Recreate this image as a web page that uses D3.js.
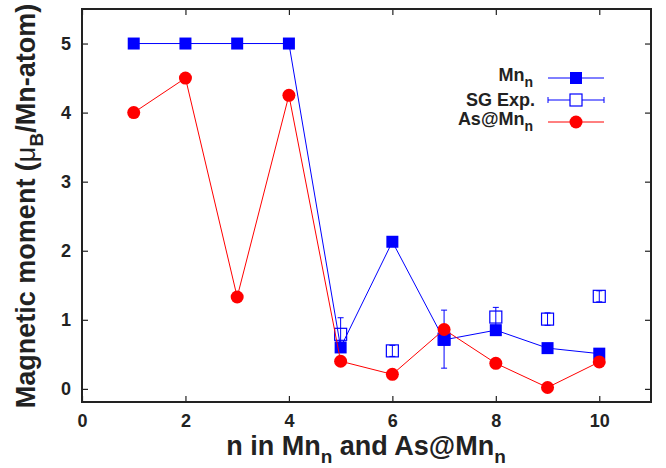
<!DOCTYPE html>
<html>
<head>
<meta charset="utf-8">
<script src="https://cdn.jsdelivr.net/npm/d3@7"></script>
<style>
body { margin: 0; background: #fff; }
text { font-family: "Liberation Sans", Arial, sans-serif; font-weight: bold; fill: #222; }
</style>
</head>
<body>
<div id="chart"></div>
<script>
// values
var nValues = [1, 2, 3, 4, 5, 6, 7, 8, 9, 10];
var mnMoment = [5, 5, 5, 5, 0.6, 2.13, 0.71, 0.85, 0.59, 0.51];
var asMnMoment = [4, 4.5, 1.33, 4.25, 0.40, 0.21, 0.86, 0.37, 0.02, 0.39];
var sgN = [5, 6, 7, 8, 9, 10];
var sgMoment = [0.79, 0.55, 0.72, 1.04, 1.01, 1.34];
var sgErr = [0.24, 0.08, 0.42, 0.14, 0.09, 0.08];
var xTicks = [0, 2, 4, 6, 8, 10];
var yTicks = [0, 1, 2, 3, 4, 5];

var width = 666, height = 468;
var margin = { top: 9, right: 15, bottom: 66, left: 82 };
var w = width - margin.left - margin.right;
var h = height - margin.top - margin.bottom;

var svg = d3.select('#chart')
    .append('svg')
    .attr('width', width)
    .attr('height', height);

var g = svg.append('g')
    .attr('transform', 'translate(' + margin.left + ',' + margin.top + ')');

var x = d3.scaleLinear().domain([0, 11]).range([0, w]);
var y = d3.scaleLinear().domain([-0.19, 5.5]).range([h, 0]);

// axes with inward ticks on all sides
var tickLen = 6;
g.append('g')
    .attr('transform', 'translate(0,' + h + ')')
    .call(d3.axisBottom(x).tickValues(xTicks).tickSizeInner(-tickLen).tickSizeOuter(0)
        .tickPadding(12).tickFormat(d3.format('d')));
g.append('g')
    .call(d3.axisTop(x).tickValues(xTicks).tickSizeInner(-tickLen).tickSizeOuter(0).tickFormat(''));
g.append('g')
    .call(d3.axisLeft(y).tickValues(yTicks).tickSizeInner(-tickLen).tickSizeOuter(0)
        .tickPadding(11).tickFormat(d3.format('d')));
g.append('g')
    .attr('transform', 'translate(' + w + ',0)')
    .call(d3.axisRight(y).tickValues(yTicks).tickSizeInner(-tickLen).tickSizeOuter(0).tickFormat(''));

g.selectAll('.domain').remove();
g.selectAll('.tick line').attr('stroke', '#222').attr('stroke-width', 1.2);
g.selectAll('.tick text')
    .attr('font-size', 18)
    .attr('font-family', '"Liberation Sans", Arial, sans-serif')
    .attr('font-weight', 'bold')
    .attr('fill', '#222');

g.append('rect')
    .attr('width', w)
    .attr('height', h)
    .attr('fill', 'none')
    .attr('stroke', '#222')
    .attr('stroke-width', 2);

var blue = '#0000ff', red = '#ff0000';
var sq = 12, rad = 6.5;

var line = d3.line()
    .x(function(d) { return x(d[0]); })
    .y(function(d) { return y(d[1]); });

var mnData = nValues.map(function(n, i) { return [n, mnMoment[i]]; });
var asData = nValues.map(function(n, i) { return [n, asMnMoment[i]]; });
var sgData = sgN.map(function(n, i) { return [n, sgMoment[i], sgErr[i]]; });

// SG experiment error bars + open squares
var sg = g.append('g');
sg.selectAll('.eb')
    .data(sgData)
    .enter()
    .append('path')
    .attr('d', function(d) {
        var cx = x(d[0]), y1 = y(d[1] + d[2]), y2 = y(d[1] - d[2]);
        return 'M' + cx + ',' + y1 + 'V' + y2 +
            'M' + (cx - 3) + ',' + y1 + 'H' + (cx + 3) +
            'M' + (cx - 3) + ',' + y2 + 'H' + (cx + 3);
    })
    .attr('stroke', blue)
    .attr('stroke-width', 1)
    .attr('fill', 'none');
sg.selectAll('rect')
    .data(sgData)
    .enter()
    .append('rect')
    .attr('x', function(d) { return x(d[0]) - sq / 2; })
    .attr('y', function(d) { return y(d[1]) - sq / 2; })
    .attr('width', sq)
    .attr('height', sq)
    .attr('fill', 'none')
    .attr('stroke', blue)
    .attr('stroke-width', 1.2);

// Mn_n
g.append('path')
    .datum(mnData)
    .attr('d', line)
    .attr('fill', 'none')
    .attr('stroke', blue)
    .attr('stroke-width', 1);
g.selectAll('.mn')
    .data(mnData)
    .enter()
    .append('rect')
    .attr('x', function(d) { return x(d[0]) - sq / 2; })
    .attr('y', function(d) { return y(d[1]) - sq / 2; })
    .attr('width', sq)
    .attr('height', sq)
    .attr('fill', blue);

// As@Mn_n
g.append('path')
    .datum(asData)
    .attr('d', line)
    .attr('fill', 'none')
    .attr('stroke', red)
    .attr('stroke-width', 1);
g.selectAll('.as')
    .data(asData)
    .enter()
    .append('circle')
    .attr('cx', function(d) { return x(d[0]); })
    .attr('cy', function(d) { return y(d[1]); })
    .attr('r', rad)
    .attr('fill', red);

// Legend
var legend = svg.append('g');
var legX1 = 548, legX2 = 604, legC = 576, legTextX = 533;
var rows = [78, 100, 122];

function subLabel(t, x0, y0, main, sub) {
    var txt = t.append('text')
        .attr('x', x0)
        .attr('y', y0)
        .attr('text-anchor', 'end')
        .attr('font-size', 18);
    txt.append('tspan').text(main);
    if (sub) {
        txt.append('tspan').attr('dy', 6).attr('font-size', 14).text(sub);
    }
}

subLabel(legend, legTextX, rows[0] + 3, 'Mn', 'n');
subLabel(legend, legTextX + 2, rows[1] + 6, 'SG Exp.', null);
subLabel(legend, legTextX, rows[2] + 3, 'As@Mn', 'n');

legend.append('line').attr('x1', legX1).attr('x2', legX2).attr('y1', rows[0]).attr('y2', rows[0])
    .attr('stroke', blue).attr('stroke-width', 1);
legend.append('rect').attr('x', legC - sq / 2).attr('y', rows[0] - sq / 2).attr('width', sq).attr('height', sq)
    .attr('fill', blue);

legend.append('path')
    .attr('d', 'M' + legX1 + ',' + rows[1] + 'H' + legX2 +
        'M' + legX1 + ',' + (rows[1] - 3) + 'V' + (rows[1] + 3) +
        'M' + legX2 + ',' + (rows[1] - 3) + 'V' + (rows[1] + 3))
    .attr('stroke', blue).attr('stroke-width', 1).attr('fill', 'none');
legend.append('rect').attr('x', legC - sq / 2).attr('y', rows[1] - sq / 2).attr('width', sq).attr('height', sq)
    .attr('fill', '#fff').attr('stroke', blue).attr('stroke-width', 1.2);

legend.append('line').attr('x1', legX1).attr('x2', legX2).attr('y1', rows[2]).attr('y2', rows[2])
    .attr('stroke', red).attr('stroke-width', 1);
legend.append('circle').attr('cx', legC).attr('cy', rows[2]).attr('r', rad).attr('fill', red);

// Axis titles
var xTitle = svg.append('text')
    .attr('x', 366)
    .attr('y', 455)
    .attr('text-anchor', 'middle')
    .attr('font-size', 27);
xTitle.append('tspan').text('n in Mn');
xTitle.append('tspan').attr('dy', 8).attr('font-size', 19).text('n');
xTitle.append('tspan').attr('dy', -8).text(' and As@Mn');
xTitle.append('tspan').attr('dy', 8).attr('font-size', 19).text('n');

var yTitle = svg.append('text')
    .attr('transform', 'translate(35,' + 206 + ') rotate(-90)')
    .attr('text-anchor', 'middle')
    .attr('font-size', 27);
yTitle.append('tspan').text('Magnetic moment (');
yTitle.append('tspan').attr('font-weight', 'normal').text('\u03bc');
yTitle.append('tspan').attr('dy', 8).attr('font-size', 19).text('B');
yTitle.append('tspan').attr('dy', -8).text('/Mn-atom)');
</script>
</body>
</html>
